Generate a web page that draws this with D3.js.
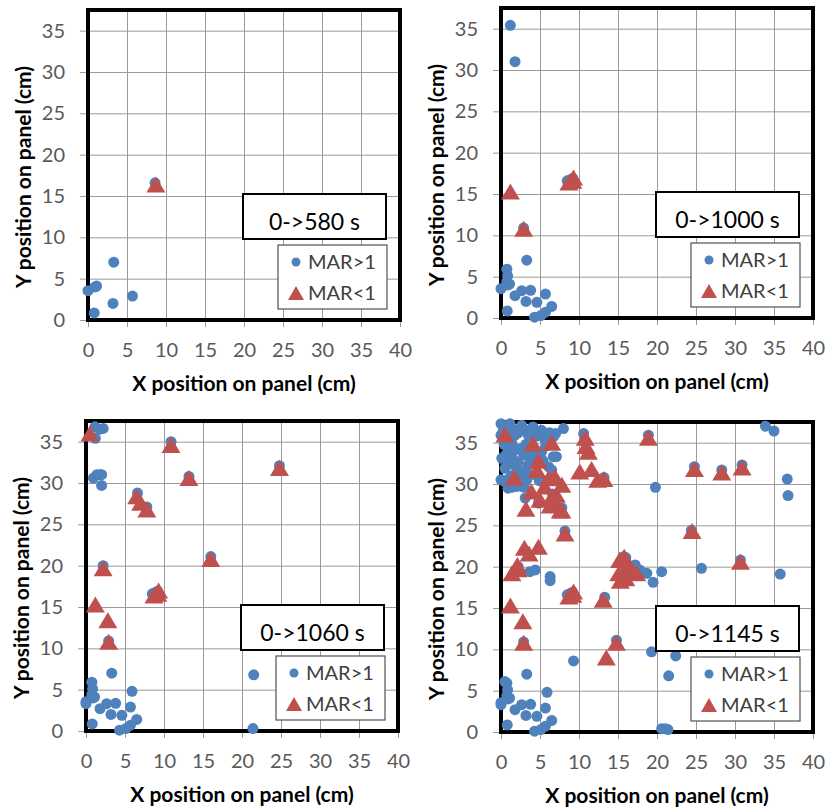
<!DOCTYPE html>
<html>
<head>
<meta charset="utf-8">
<script src="https://cdn.jsdelivr.net/npm/d3@7"></script>
<style>
    body { margin: 0; background: #fff; }
    svg text { font-family: Lato, "Open Sans", "DejaVu Sans", sans-serif; }
</style>
</head>
<body>
<svg id="chart" width="826" height="807"></svg>
<script>
const xTicks = [0, 5, 10, 15, 20, 25, 30, 35, 40];
const yTicks = [0, 5, 10, 15, 20, 25, 30, 35];
const timeLabels = ["0->580 s", "0->1000 s", "0->1060 s", "0->1145 s"];
const seriesNames = ["MAR>1", "MAR<1"];

// points that appear in each time window, [x cm, y cm]
const marAbove580 = [[0, 3.55], [0.9, 4.0], [1.1, 4.1], [0.8, 0.85], [3.3, 7.0], [3.2, 2.0], [5.7, 2.9], [8.6, 16.6]];
const marBelow580 = [[8.7, 16.4]];

const marAbove1000 = [[1.2, 35.4], [1.8, 31.0], [0.75, 5.9], [0.85, 5.1], [0.75, 4.4], [1.8, 2.7], [2.65, 3.3],
    [3.8, 3.35], [4.6, 1.9], [6.5, 1.4], [4.3, 0.1], [5.1, 0.3], [5.7, 0.7], [2.9, 10.9], [8.5, 16.6], [9.2, 16.9]];
const marBelow1000 = [[1.2, 15.3], [2.9, 10.8], [9.2, 16.6], [9.3, 17.0]];

const marAbove1060 = [[1.15, 36.8], [1.7, 36.5], [2.2, 36.6], [1.4, 31.0], [0.95, 30.6], [2.0, 31.0], [2.0, 29.7],
    [10.9, 35.0], [13.2, 30.8], [24.8, 32.1], [6.6, 28.8], [7.8, 27.1], [16.0, 21.1], [2.2, 20.0], [9.0, 16.8],
    [21.5, 6.8], [21.4, 0.3], [5.9, 4.8], [0, 3.3]];
const marBelow1060 = [[0.5, 36.0], [10.9, 34.6], [13.2, 30.6], [24.8, 31.8], [6.5, 28.4], [7.0, 27.6], [7.8, 26.8],
    [16.0, 20.8], [2.2, 19.7], [2.8, 13.4]];

const marAbove1145 = [[0, 37.3], [0, 35.9], [1.15, 37.3], [2.65, 37.1], [4.1, 36.9], [5.2, 36.5], [5.6, 35.5],
    [6.7, 35.7], [5.2, 33.9], [6.7, 33.3], [6.1, 32.1], [0, 30.5], [0.5, 30.3], [1.4, 29.6], [2.65, 29.7],
    [3.3, 30.5], [2.2, 32.7], [3.5, 32.3], [0.1, 33.1], [0.9, 34.3], [2.65, 34.3], [4.4, 33.7], [1.8, 35.9],
    [3.5, 35.9], [0.5, 31.9], [4.4, 31.1], [4.8, 27.7], [3.1, 28.3], [8.0, 36.7], [10.6, 36.1], [7.1, 33.3],
    [0.3, 36.5], [0.8, 36.0], [1.5, 36.6], [2.2, 36.2], [3.0, 36.6], [3.8, 36.3], [4.6, 35.8], [0.4, 34.8],
    [1.4, 34.9], [2.0, 34.2], [3.2, 34.8], [3.9, 34.2], [0.6, 33.5], [1.4, 33.2], [2.9, 33.5], [1.0, 32.4],
    [2.0, 31.8], [2.8, 31.6], [3.6, 31.2], [1.2, 30.8], [2.4, 30.6], [0.9, 29.5], [3.8, 33.0], [5.8, 34.6],
    [6.2, 36.2], [7.0, 36.1], [5.4, 32.8], [4.9, 30.4], [3.0, 29.6],
    [6.5, 31.7], [19.8, 29.6], [33.9, 37.0], [35.0, 36.4], [36.7, 30.6], [36.8, 28.6], [35.8, 19.1],
    [25.7, 19.8], [20.6, 19.4], [19.5, 18.1], [18.7, 19.2], [17.8, 19.6], [17.2, 20.2], [15.7, 21.2],
    [6.3, 18.8], [6.3, 18.3], [4.4, 19.6], [3.7, 19.4], [19.3, 9.7], [22.4, 9.2], [9.3, 8.6], [20.6, 0.4],
    [21.1, 0.4], [0.5, 6.1], [24.4, 24.4], [30.7, 20.8], [18.9, 35.9], [28.3, 31.7], [30.9, 32.3],
    [14.8, 11.1], [13.3, 16.3], [8.2, 24.3]];
const marBelow1145 = [[4.1, 34.9], [6.5, 35.0], [10.8, 35.6], [11.2, 33.9], [18.9, 35.6], [1.7, 30.8],
    [4.8, 32.8], [4.6, 31.7], [6.1, 30.7], [6.9, 30.9], [5.6, 29.7], [3.9, 29.1], [7.8, 29.9], [7.1, 28.7],
    [6.3, 27.4], [7.6, 26.8], [3.2, 27.0], [5.0, 28.1], [10.1, 31.5], [11.6, 31.8], [12.4, 30.5],
    [28.3, 31.4], [30.9, 32.0], [8.2, 24.0], [24.5, 24.3], [3.0, 22.3], [3.6, 21.6], [4.8, 22.4], [2.1, 20.2],
    [1.4, 19.2], [15.2, 20.8], [15.8, 21.2], [16.2, 20.2], [15.1, 19.2], [15.3, 18.3], [16.4, 19.6],
    [17.4, 19.2], [16.0, 18.6], [30.7, 20.6], [13.1, 16.0], [14.8, 10.8], [13.5, 9.0]];

const above = [marAbove580, marAbove1000, marAbove1060, marAbove1145];
const below = [marBelow580, marBelow1000, marBelow1060, marBelow1145];

// plot box of each panel in page pixels
const panels = [
    {x: [88, 400], y: [320, 10]},
    {x: [501, 813], y: [318, 8]},
    {x: [86, 398], y: [731, 421]},
    {x: [501, 813], y: [732, 422]}
];

const blue = "#4f81bd", red = "#c0504d";
const triangle = (w, h) => `M0,${-h / 2}L${w / 2},${h / 2}L${-w / 2},${h / 2}Z`;

const svg = d3.select("#chart");

panels.forEach((p, i) => {
    const x = d3.scaleLinear().domain([0, 40]).range(p.x);
    const y = d3.scaleLinear().domain([0, 37.5]).range(p.y);
    const w = p.x[1] - p.x[0], h = p.y[0] - p.y[1];
    const g = svg.append("g");

    // grid lines
    g.append("g")
        .attr("transform", `translate(0,${p.y[0]})`)
        .call(d3.axisBottom(x).tickValues(xTicks).tickSize(-h).tickFormat(""))
        .call(a => a.select(".domain").remove())
        .selectAll("line").attr("stroke", "#9a9a9a");
    g.append("g")
        .attr("transform", `translate(${p.x[0]},0)`)
        .call(d3.axisLeft(y).tickValues(yTicks).tickSize(-w).tickFormat(""))
        .call(a => a.select(".domain").remove())
        .selectAll("line").attr("stroke", "#9a9a9a");

    // outer ticks and labels
    const xa = g.append("g")
        .attr("transform", `translate(0,${p.y[0]})`)
        .call(d3.axisBottom(x).tickValues(xTicks).tickSize(7).tickPadding(16).tickSizeOuter(0));
    const ya = g.append("g")
        .attr("transform", `translate(${p.x[0]},0)`)
        .call(d3.axisLeft(y).tickValues(yTicks).tickSize(8).tickPadding(15).tickSizeOuter(0));
    [xa, ya].forEach(a => {
        a.select(".domain").attr("stroke", "#9a9a9a");
        a.selectAll("line").attr("stroke", "#9a9a9a");
        a.selectAll("text").attr("fill", "#595959").style("font-size", "20px").style("font-family", null);
    });

    // axis titles
    g.append("text")
        .attr("x", (p.x[0] + p.x[1]) / 2)
        .attr("y", p.y[0] + 71)
        .attr("text-anchor", "middle")
        .style("font-size", "21px").style("font-weight", "bold")
        .text("X position on panel (cm)");
    g.append("text")
        .attr("transform", `translate(${p.x[0] - 64},${(p.y[0] + p.y[1]) / 2 + 12}) rotate(-90)`)
        .attr("text-anchor", "middle")
        .attr("dy", "0.35em")
        .style("font-size", "21px").style("font-weight", "bold")
        .text("Y position on panel (cm)");

    // plot border
    g.append("rect")
        .attr("x", p.x[0]).attr("y", p.y[1])
        .attr("width", w).attr("height", h)
        .attr("fill", "none").attr("stroke", "#000").attr("stroke-width", 4);

    // markers, cumulative up to this window
    const circles = d3.merge(above.slice(0, i + 1));
    const tris = d3.merge(below.slice(0, i + 1));

    g.append("g").selectAll("circle")
        .data(circles)
        .join("circle")
        .attr("cx", d => x(d[0]))
        .attr("cy", d => y(d[1]))
        .attr("r", 5.5)
        .attr("fill", blue);

    g.append("g").selectAll("path")
        .data(tris)
        .join("path")
        .attr("d", triangle(19, 16))
        .attr("transform", d => `translate(${x(d[0])},${y(d[1])})`)
        .attr("fill", red);

    // time window box
    const bx = p.x[1] - 157, by = p.y[0] - 126;
    g.append("rect")
        .attr("x", bx).attr("y", by).attr("width", 143).attr("height", 45)
        .attr("fill", "#fff").attr("stroke", "#000").attr("stroke-width", 2);
    g.append("text")
        .attr("x", bx + 71.5).attr("y", by + 36)
        .attr("text-anchor", "middle")
        .style("font-size", "23px")
        .text(timeLabels[i]);

    // legend
    const lx = p.x[1] - 122, ly = p.y[0] - 75;
    const lg = g.append("g").attr("transform", `translate(${lx},${ly})`);
    lg.append("rect")
        .attr("width", 109).attr("height", 64)
        .attr("fill", "#fff").attr("stroke", "#505050").attr("stroke-width", 1.2);
    lg.append("circle").attr("cx", 18).attr("cy", 17).attr("r", 4.5).attr("fill", blue);
    lg.append("path").attr("d", triangle(16, 14)).attr("transform", "translate(18,48)").attr("fill", red);
    lg.selectAll("text.leg")
        .data(seriesNames)
        .join("text")
        .attr("class", "leg")
        .attr("x", 30)
        .attr("y", (d, k) => 24 + k * 31)
        .attr("fill", "#404040")
        .style("font-size", "20px")
        .text(d => d);
});
</script>
</body>
</html>
